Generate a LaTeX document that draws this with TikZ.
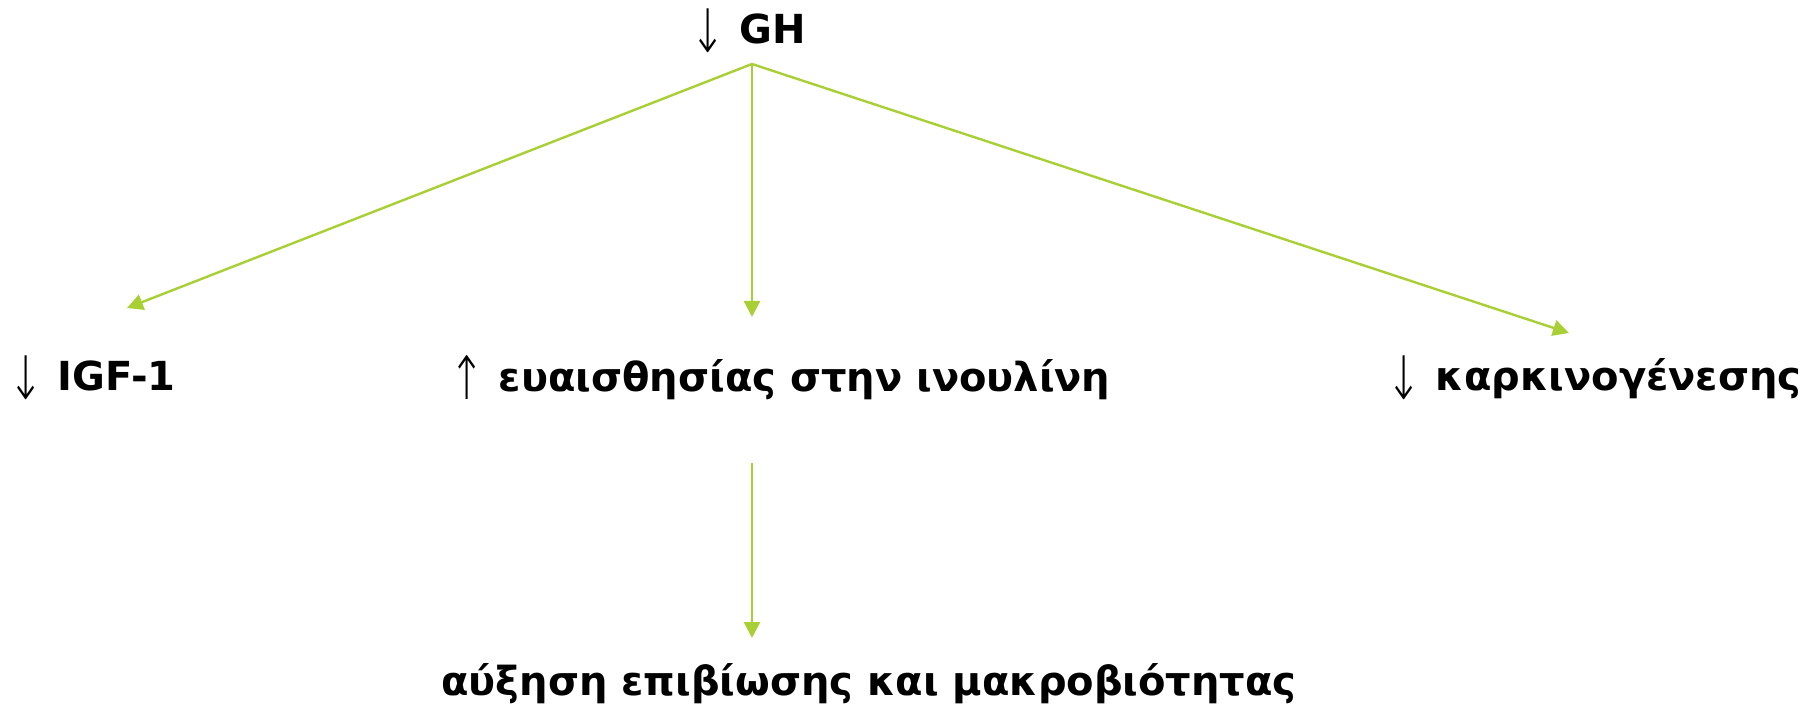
\documentclass[tikz,border=0pt]{standalone}
\usepackage{fontspec}
\setmainfont{DejaVu Sans}
\newfontfamily\arrowfont{DejaVu Sans ExtraLight}
\usetikzlibrary{arrows.meta}
\definecolor{lime}{RGB}{168,208,52}
\tikzset{
  lbl/.style={inner sep=0pt, font=\fontsize{20}{24}\selectfont\bfseries, text=black},
  conn/.style={draw=lime, line width=1.2pt, -{Triangle[length=8pt,width=8pt]}}
}
\newcommand{\dn}{\raisebox{-0.22em}{\scalebox{0.7}[1]{\mdseries\arrowfont\fontsize{30}{30}\selectfont ↓}}}
\newcommand{\upar}{\raisebox{-0.22em}{\scalebox{0.7}[1]{\mdseries\arrowfont\fontsize{30}{30}\selectfont ↑}}}
\begin{document}
\begin{tikzpicture}[x=0.5pt,y=-0.5pt]
\useasboundingbox (0,0) rectangle (1817,711);
\node[lbl] (gh) at (748,31) {\dn\ GH};
\node[lbl, anchor=west] (igf) at (8,378) {\dn\ IGF-1};
\node[lbl] (ins) at (780,378) {\upar\ ευαισθησίας στην ινουλίνη};
\node[lbl, anchor=east] (carc) at (1802,378) {\dn\ καρκινογένεσης};
\node[lbl] (surv) at (869,684) {αύξηση επιβίωσης και μακροβιότητας};
\coordinate (src) at (752,64);
\coordinate (t1) at (127,308);
\coordinate (t2) at (752,317);
\coordinate (t3) at (1569,333);
\coordinate (s2) at (752,463);
\coordinate (t4) at (752,638);
\draw[conn] (src) -- (t1);
\draw[conn] (src) -- (t2);
\draw[conn] (src) -- (t3);
\draw[conn] (s2) -- (t4);
\end{tikzpicture}
\end{document}
